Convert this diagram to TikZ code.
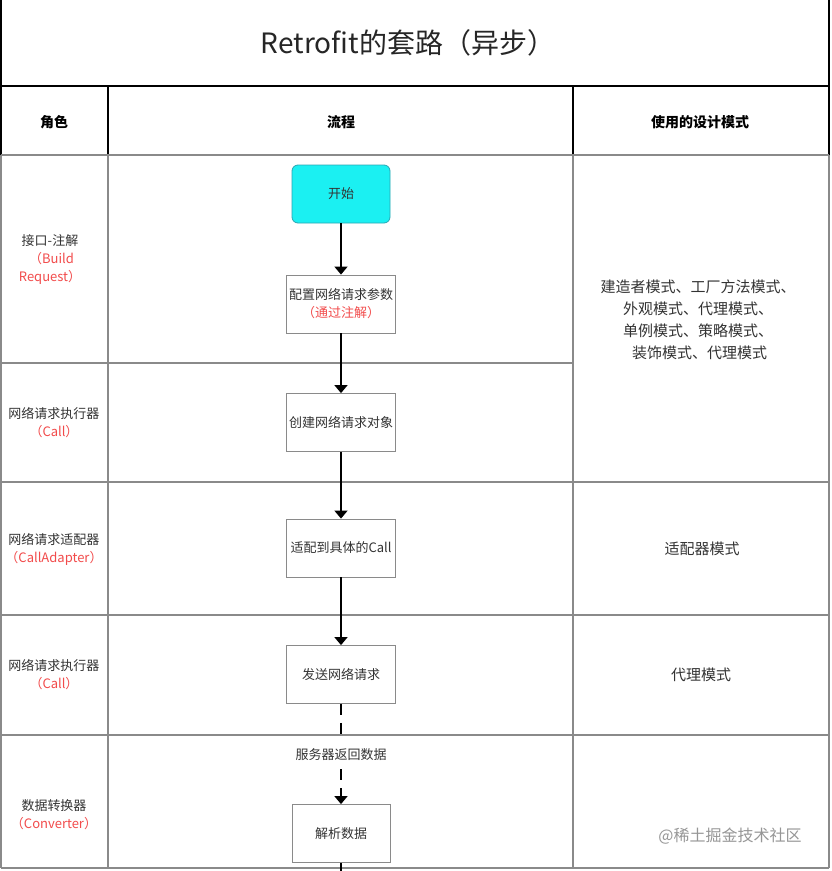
\documentclass[tikz,border=0pt]{standalone}
\usepackage{fontspec}
\setmainfont{Noto Sans CJK SC}
\usetikzlibrary{arrows.meta}
\definecolor{txt}{HTML}{333333}
\definecolor{redt}{HTML}{F24B4B}
\definecolor{gridg}{HTML}{8A8A8A}
\definecolor{startfill}{HTML}{1BF0F2}
\definecolor{startdraw}{HTML}{2AA6B3}
\tikzset{
  cell/.style={text=txt, font=\fontsize{13}{18}\selectfont, align=center, inner sep=0pt},
  headtxt/.style={text=black, font=\fontsize{14}{18}\selectfont\bfseries, inner sep=0pt},
  procbox/.style={draw=gridg, line width=0.8pt, fill=white, minimum width=109pt, minimum height=58pt, text=txt, font=\fontsize{13}{18}\selectfont, align=center, inner sep=0pt},
  startbox/.style={draw=startdraw, line width=0.8pt, fill=startfill, rounded corners=6pt, minimum width=98pt, minimum height=58pt, text=txt, font=\fontsize{13}{18}\selectfont, inner sep=0pt},
  flow/.style={line width=1.6pt, -{Triangle[width=13pt,length=8pt]}},
  dashflow/.style={line width=1.6pt, dash pattern=on 11pt off 8pt},
  gline/.style={draw=gridg, line width=1.2pt},
  bline/.style={draw=black, line width=1.4pt},
}
\begin{document}
\begin{tikzpicture}[x=1pt,y=-1pt]
\useasboundingbox (0,0) rectangle (831,871);
\fill[white] (0,0) rectangle (831,871);
% grid
\draw[bline] (1,0) -- (1,155);
\draw[bline] (829,0) -- (829,155);
\draw[bline] (1,86) -- (829,86);
\draw[bline] (108,86) -- (108,155);
\draw[bline] (573,86) -- (573,155);
\draw[gline] (1,155) -- (829,155);
\draw[gline] (1,155) -- (1,868);
\draw[gline] (829,155) -- (829,868);
\draw[gline] (108,155) -- (108,868);
\draw[gline] (573,155) -- (573,868);
\draw[gline] (1,868) -- (829,868);
\draw[gline] (1,363) -- (573,363);
\draw[gline] (1,482) -- (829,482);
\draw[gline] (1,615) -- (829,615);
\draw[gline] (1,735) -- (829,735);
% title
\node[text=black!85, font=\fontsize{28}{32}\selectfont, inner sep=0pt] (title) at (408,43) {Retrofit的套路（异步）};
% headers
\node[headtxt] (h1) at (54,122) {角色};
\node[headtxt] (h2) at (341,122) {流程};
\node[headtxt] (h3) at (700,122) {使用的设计模式};
% left labels
\node[cell] (r1) at (50,259) {接口-注解\\\textcolor{redt}{\ （Build}\\\textcolor{redt}{Request）}};
\node[cell] (r2) at (54,423) {网络请求执行器\\\textcolor{redt}{（Call）}};
\node[cell] (r3) at (54,549) {网络请求适配器\\\textcolor{redt}{（CallAdapter）}};
\node[cell] (r4) at (54,675) {网络请求执行器\\\textcolor{redt}{（Call）}};
\node[cell] (r5) at (54,815) {数据转换器\\\textcolor{redt}{（Converter）}};
% right labels
\node[cell, font=\fontsize{15}{22}\selectfont] (p1) at (698,320) {建造者模式、工厂方法模式、\\外观模式、代理模式、\\单例模式、策略模式、\\\ 装饰模式、代理模式};
\node[cell, font=\fontsize{15}{18}\selectfont] (p2) at (702,549) {适配器模式};
\node[cell, font=\fontsize{15}{18}\selectfont] (p3) at (701,675) {代理模式};
% flow
\node[startbox] (start) at (341,194) {开始};
\node[procbox] (s1) at (341,304) {配置网络请求参数\\\textcolor{redt}{（通过注解）}};
\node[procbox] (s2) at (341,422.5) {创建网络请求对象};
\node[procbox] (s3) at (341,548) {适配到具体的Call};
\node[procbox] (s4) at (341,674.5) {发送网络请求};
\node[cell] (srv) at (341,755) {服务器返回数据};
\node[procbox, minimum width=98pt] (s5) at (341,833.5) {解析数据};
\coordinate (bot) at (341,871);
\draw[flow] (start) -- (s1);
\draw[flow] (s1) -- (s2);
\draw[flow] (s2) -- (s3);
\draw[flow] (s3) -- (s4);
\draw[dashflow] (s4.south) -- ([yshift=8pt]srv.north);
\draw[dashflow] ([yshift=-8pt]srv.south) -- ([yshift=14pt]s5.north);
\draw[flow] ([yshift=16pt]s5.north) -- (s5.north);
\draw[line width=1.6pt] (s5.south) -- (bot);
% watermark
\node[text=gridg!90, font=\fontsize{16}{20}\selectfont, inner sep=0pt] (wm) at (730,836) {@稀土掘金技术社区};
\end{tikzpicture}
\end{document}
